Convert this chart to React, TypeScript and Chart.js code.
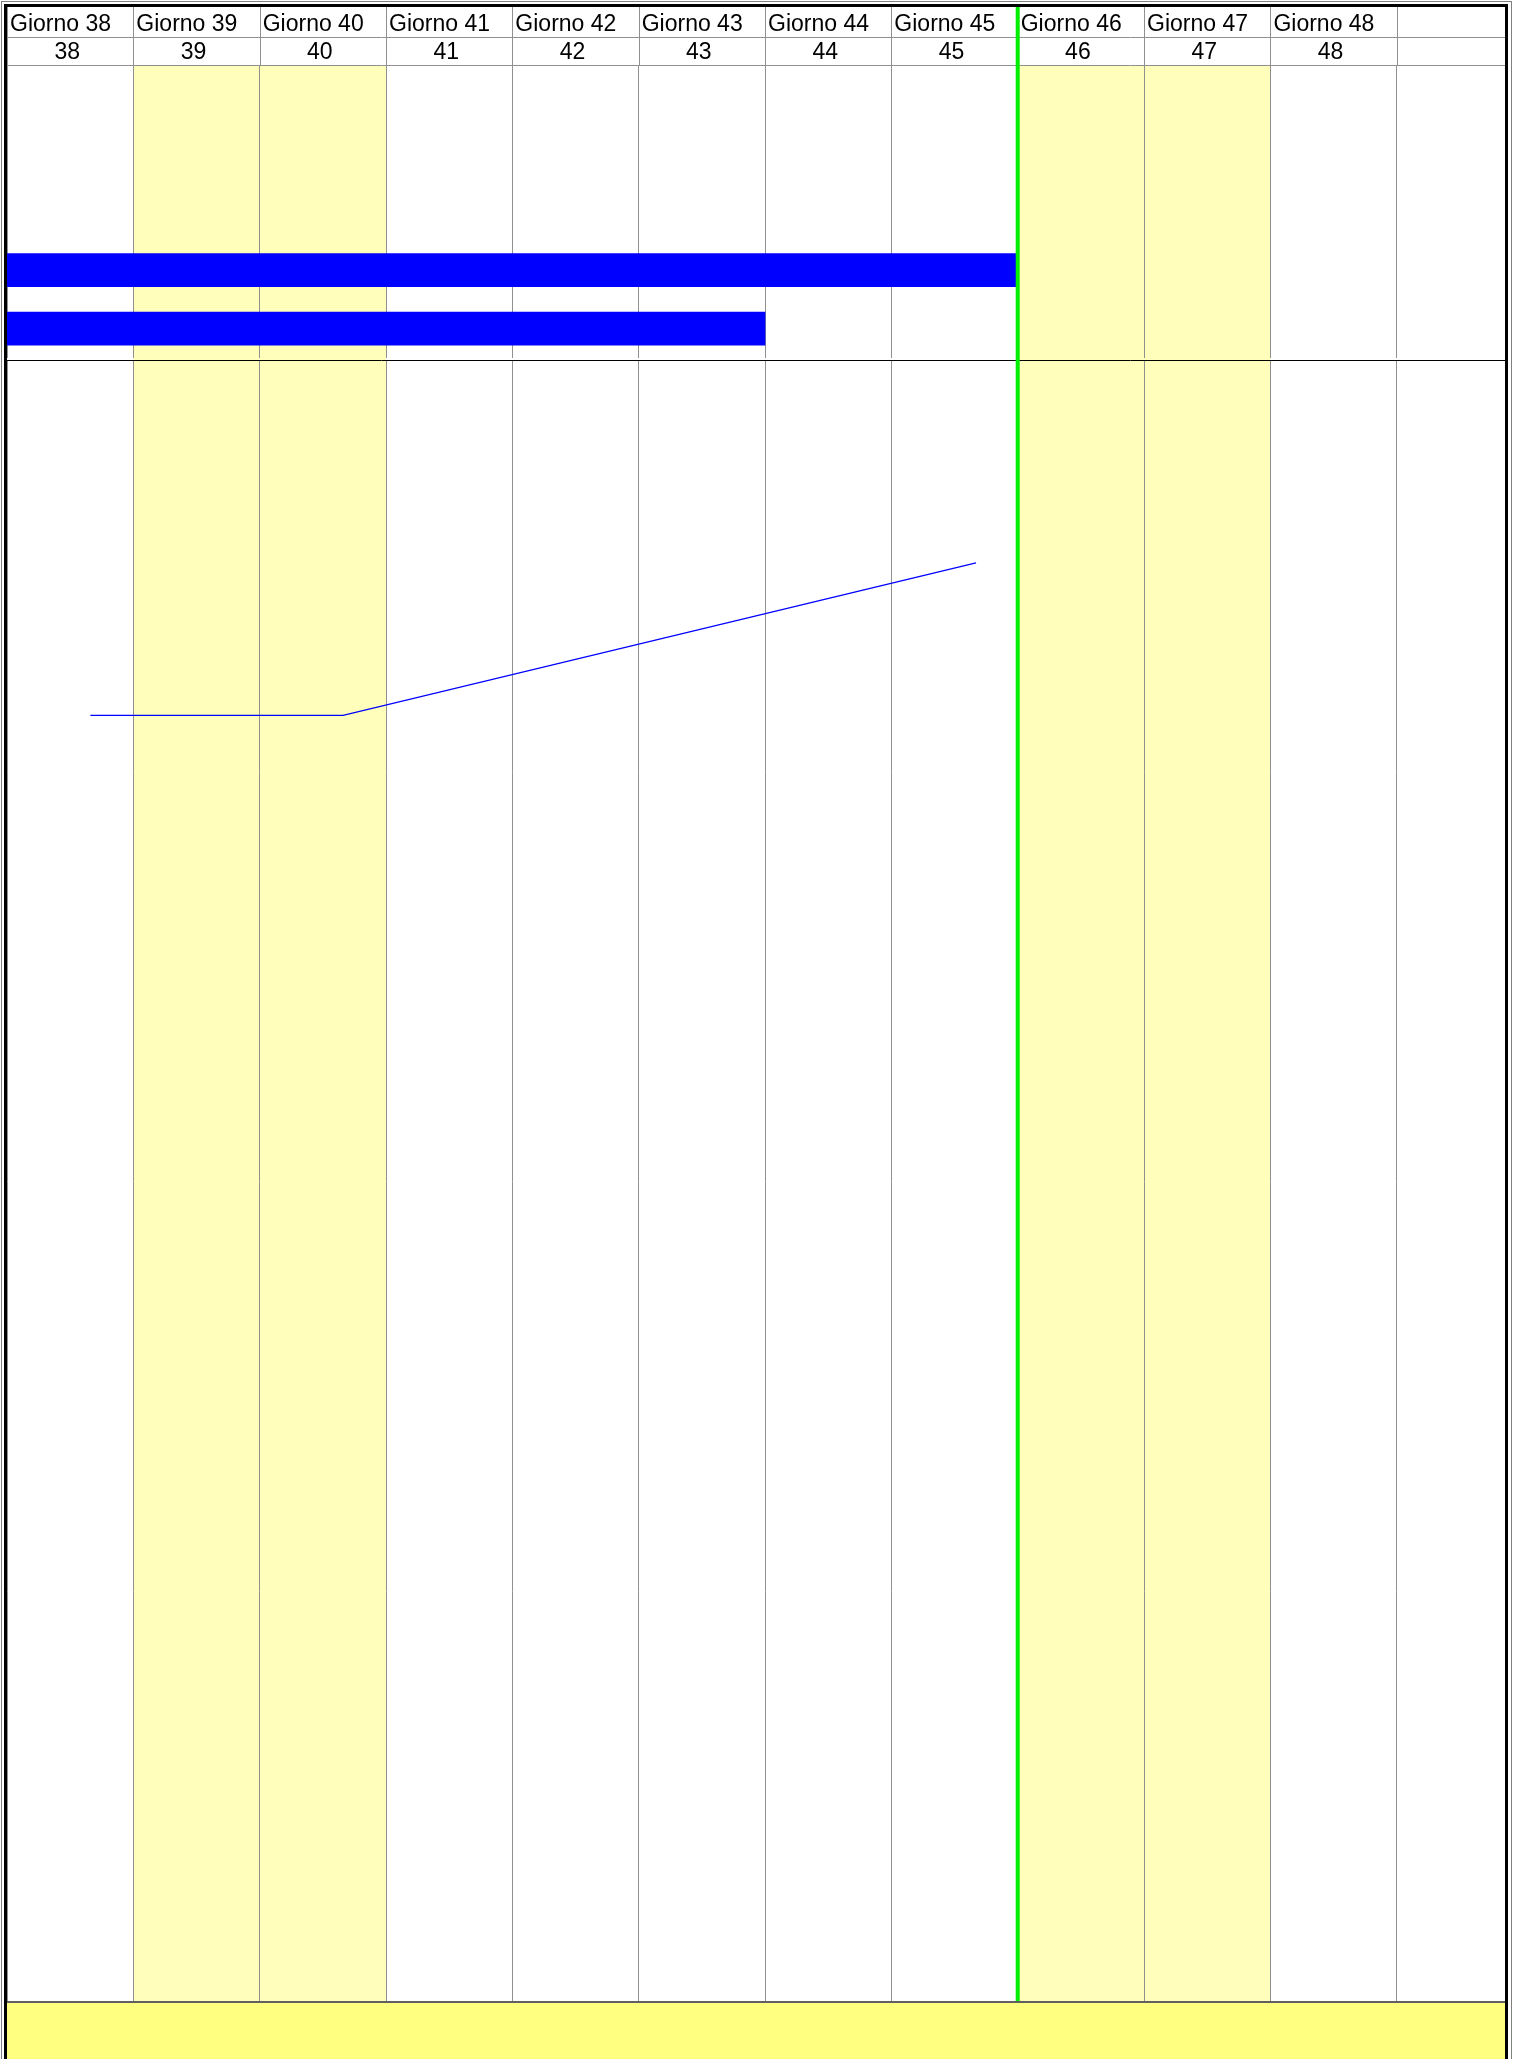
import React, { useEffect, useRef } from 'react';
import { Chart, registerables } from 'chart.js';

Chart.register(...registerables);

// ---- data ----
const dayLabels = ['Giorno 38', 'Giorno 39', 'Giorno 40', 'Giorno 41', 'Giorno 42', 'Giorno 43', 'Giorno 44', 'Giorno 45', 'Giorno 46', 'Giorno 47', 'Giorno 48'];
const dayNumbers = [38, 39, 40, 41, 42, 43, 44, 45, 46, 47, 48];
const gridDays = [38, 39, 40, 41, 42, 43, 44, 45, 46, 47, 48, 49];
const weekendDays = [39, 40, 46, 47];
const todayDay = 46;
const X_MIN = 38;
const X_MAX = 49.857;

const taskRows = ['riga 1', 'riga 2', 'riga 3', 'riga 4', 'riga 5'];
const taskStart: (number | null)[] = [null, null, null, 38, 38];
const taskEnd: (number | null)[] = [null, null, null, 46, 44];

const lineX = [38.66, 39.65, 40.66, 45.67];
const lineY = [78.4, 78.4, 78.4, 87.7];

// ---- styles ----
const FONT = 'Liberation Sans, Arial, sans-serif';
const GRID = '#909090';
const WEEKEND = '#FFFFBB';
const BAND = '#FFFF80';
const GREEN = '#00ee00';

function drawWeekends(chart: any, bottom: number) {
  const { ctx, chartArea } = chart;
  const xs = chart.scales.x;
  ctx.save();
  ctx.fillStyle = WEEKEND;
  weekendDays.forEach((d) => {
    const l = xs.getPixelForValue(d);
    const r = xs.getPixelForValue(d + 1);
    ctx.fillRect(l, chartArea.top, r - l, bottom - chartArea.top);
  });
  ctx.restore();
}

function drawToday(chart: any, bottom: number) {
  const { ctx } = chart;
  const px = chart.scales.x.getPixelForValue(todayDay);
  ctx.save();
  ctx.strokeStyle = GREEN;
  ctx.lineWidth = 4;
  ctx.beginPath();
  ctx.moveTo(px, 0);
  ctx.lineTo(px, bottom);
  ctx.stroke();
  ctx.restore();
}

const frameA = {
  id: 'frameA',
  beforeDraw(chart: any) {
    drawWeekends(chart, chart.height - 1);
  },
  afterDatasetsDraw(chart: any) {
    const { ctx, chartArea } = chart;
    const xs = chart.scales.x;
    const x2 = chart.scales.x2;
    ctx.save();
    ctx.strokeStyle = GRID;
    ctx.lineWidth = 1;
    ctx.beginPath();
    gridDays.forEach((d) => {
      const px = Math.round(xs.getPixelForValue(d)) + 0.5;
      ctx.moveTo(px, 0);
      ctx.lineTo(px, chartArea.top);
    });
    [x2.top, chartArea.top].forEach((y: number) => {
      const py = Math.round(y) + 0.5;
      ctx.moveTo(0, py);
      ctx.lineTo(chart.width, py);
    });
    ctx.stroke();
    ctx.strokeStyle = '#000';
    ctx.beginPath();
    ctx.moveTo(0, chart.height - 0.5);
    ctx.lineTo(chart.width, chart.height - 0.5);
    ctx.stroke();
    ctx.restore();
    drawToday(chart, chart.height);
  },
};

const frameB = {
  id: 'frameB',
  beforeDraw(chart: any) {
    const { ctx, chartArea } = chart;
    drawWeekends(chart, chartArea.bottom);
    ctx.save();
    ctx.fillStyle = BAND;
    ctx.fillRect(0, chartArea.bottom, chart.width, chart.height - chartArea.bottom);
    ctx.restore();
  },
  afterDatasetsDraw(chart: any) {
    const { ctx, chartArea } = chart;
    ctx.save();
    ctx.strokeStyle = '#606060';
    ctx.lineWidth = 2;
    ctx.beginPath();
    ctx.moveTo(0, chartArea.bottom);
    ctx.lineTo(chart.width, chartArea.bottom);
    ctx.stroke();
    ctx.restore();
    drawToday(chart, chartArea.bottom - 1);
  },
};

const setGridTicks = (s: any) => {
  s.ticks = gridDays.map((v) => ({ value: v }));
};

export default function App() {
  const refA = useRef<HTMLCanvasElement>(null);
  const refB = useRef<HTMLCanvasElement>(null);

  useEffect(() => {
    document.documentElement.style.overflow = 'hidden';
    const tickFont = { family: FONT, size: 23 };

    const chartA = new Chart(refA.current!, {
      type: 'bar',
      data: {
        labels: taskRows,
        datasets: [
          {
            data: taskRows.map((_, i) =>
              taskStart[i] == null ? null : [taskStart[i] as number, taskEnd[i] as number]
            ) as any,
            backgroundColor: '#0000ff',
            borderWidth: 0,
            barThickness: 33,
          },
        ],
      },
      options: {
        indexAxis: 'y',
        animation: false,
        responsive: false,
        devicePixelRatio: 1,
        events: [],
        layout: { padding: { top: 0, left: 0, right: 0, bottom: 3 } },
        plugins: { legend: { display: false }, tooltip: { enabled: false } },
        scales: {
          x: {
            type: 'linear',
            position: 'top',
            weight: 2,
            min: X_MIN,
            max: X_MAX,
            afterBuildTicks: setGridTicks,
            afterFit: (s: any) => {
              s.height = 30;
            },
            ticks: {
              autoSkip: false,
              maxRotation: 0,
              minRotation: 0,
              align: 'start',
              labelOffset: 3,
              padding: -1.5,
              font: tickFont,
              color: '#000',
              callback: (_v: any, i: number) => dayLabels[i] ?? '',
            },
            grid: { color: GRID, lineWidth: 1, drawTicks: false },
            border: { display: false },
          },
          x2: {
            type: 'linear',
            position: 'top',
            weight: 1,
            min: X_MIN,
            max: X_MAX,
            afterBuildTicks: (s: any) => {
              s.ticks = dayNumbers.map((d) => ({ value: d + 0.5 }));
            },
            afterFit: (s: any) => {
              s.height = 28;
            },
            ticks: {
              autoSkip: false,
              maxRotation: 0,
              minRotation: 0,
              labelOffset: -3,
              padding: -1.5,
              font: tickFont,
              color: '#000',
              callback: (_v: any, i: number) => String(dayNumbers[i] ?? ''),
            },
            grid: { display: false, drawTicks: false },
            border: { display: false },
          },
          y: { type: 'category', display: false },
        },
      } as any,
      plugins: [frameA],
    });

    const chartB = new Chart(refB.current!, {
      type: 'line',
      data: {
        datasets: [
          {
            data: lineX.map((x, i) => ({ x, y: lineY[i] })),
            borderColor: '#0000ff',
            borderWidth: 1.3,
            pointRadius: 0,
            tension: 0,
            fill: false,
          },
        ],
      },
      options: {
        animation: false,
        responsive: false,
        devicePixelRatio: 1,
        events: [],
        layout: { padding: { top: 0, left: 0, right: 0, bottom: 57 } },
        plugins: { legend: { display: false }, tooltip: { enabled: false } },
        scales: {
          x: {
            type: 'linear',
            position: 'bottom',
            min: X_MIN,
            max: X_MAX,
            afterBuildTicks: setGridTicks,
            afterFit: (s: any) => {
              s.height = 0;
            },
            ticks: { display: false },
            grid: { color: GRID, lineWidth: 1, drawTicks: false },
            border: { display: false },
          },
          y: { type: 'linear', min: 0, max: 100, display: false },
        },
      } as any,
      plugins: [frameB],
    });

    return () => {
      chartA.destroy();
      chartB.destroy();
    };
  }, []);

  return (
    <div
      style={{
        position: 'absolute',
        left: 1,
        top: 1,
        border: '1px solid #808080',
        borderBottom: 'none',
        padding: '2px 3px 0 2px',
        background: '#fff',
      }}
    >
      <div
        style={{
          border: '3px solid #000',
          borderBottom: 'none',
          width: 1498,
          height: 2052,
          overflow: 'hidden',
        }}
      >
        <canvas ref={refA} width={1498} height={354} style={{ display: 'block', width: 1498, height: 354 }} />
        <canvas ref={refB} width={1498} height={1698} style={{ display: 'block', width: 1498, height: 1698 }} />
      </div>
    </div>
  );
}
